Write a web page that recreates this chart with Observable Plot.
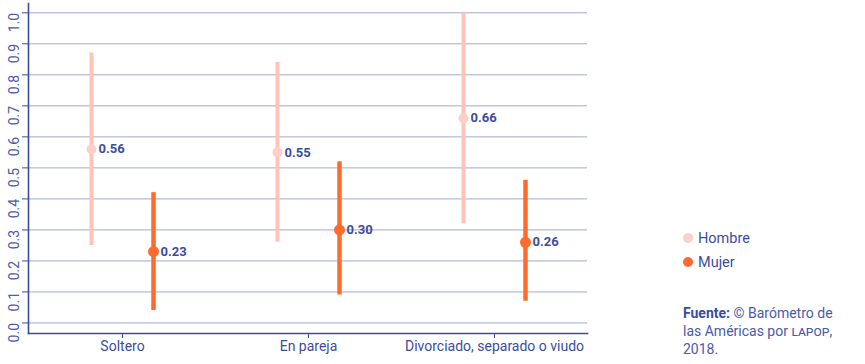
<!DOCTYPE html>
<html>
<head>
<meta charset="utf-8">
<script src="https://cdn.jsdelivr.net/npm/d3@7"></script>
<script src="https://cdn.jsdelivr.net/npm/@observablehq/plot@0.6"></script>
<style>
  html, body { margin: 0; padding: 0; background: #fff; }
  #wrap { position: relative; width: 865px; height: 364px; font-family: Roboto, "Noto Sans", sans-serif; }
  #chart { position: absolute; left: 0; top: 0; }
  #legend { position: absolute; left: 683px; top: 226px; font-size: 14.5px; color: #3c4c9c; }
  #legend .item { display: flex; align-items: center; height: 24px; }
  #legend .sw { width: 10px; height: 10px; border-radius: 50%; margin-right: 5px; }
  #caption { position: absolute; left: 683px; top: 304px; font-size: 14px; line-height: 18px; color: #4a5aa8; }
  #caption b { color: #3c4c9c; font-weight: 700; }
  .sc { font-variant: small-caps; text-transform: lowercase; }
</style>
</head>
<body>
<div id="wrap">
  <div id="chart"></div>
  <div id="legend"></div>
  <div id="caption"><b>Fuente:</b> © Barómetro de<br>las Américas por <span class="sc">LAPOP</span>,<br>2018.</div>
</div>
<script>
const categories = ["Soltero", "En pareja", "Divorciado, separado o viudo"];
const seriesNames = ["Hombre", "Mujer"];
const hombreMean = [0.56, 0.55, 0.66];
const hombreLow  = [0.25, 0.26, 0.32];
const hombreHigh = [0.87, 0.84, 1.00];
const mujerMean  = [0.23, 0.30, 0.26];
const mujerLow   = [0.04, 0.09, 0.07];
const mujerHigh  = [0.42, 0.52, 0.46];
const yTicks = [0, 0.1, 0.2, 0.3, 0.4, 0.5, 0.6, 0.7, 0.8, 0.9, 1.0];

const colors = { Hombre: "#ffc4b7", Mujer: "#fe6b2c" };
const dotColors = { Hombre: "#fdcfc6", Mujer: "#fe6b2c" };
const blue = "#3c4c9c";

const hombre = categories.map((c, i) => ({ cat: c, s: "Hombre", mean: hombreMean[i], low: hombreLow[i], high: hombreHigh[i] }));
const mujer = categories.map((c, i) => ({ cat: c, s: "Mujer", mean: mujerMean[i], low: mujerLow[i], high: mujerHigh[i] }));

function seriesMarks(data, name, off, sw, r) {
  return [
    Plot.ruleX(data, { x: "cat", y1: "low", y2: "high", dx: off, stroke: colors[name], strokeWidth: sw }),
    Plot.dot(data, { x: "cat", y: "mean", dx: off, r: r, fill: dotColors[name], stroke: "none" }),
    Plot.text(data, { x: "cat", y: "mean", dx: off + 7, text: d => d3.format(".2f")(d.mean), textAnchor: "start", fill: blue, fontWeight: "bold", fontSize: 13 })
  ];
}

const chart = Plot.plot({
  width: 600,
  height: 364,
  marginLeft: 28,
  marginRight: 13,
  marginTop: 3,
  marginBottom: 31,
  style: { fontFamily: "Roboto, 'Noto Sans', sans-serif", background: "transparent", overflow: "visible" },
  x: { type: "band", domain: categories, padding: 0 },
  y: { domain: [-0.034, 1.03] },
  marks: [
    Plot.ruleY(yTicks, { stroke: "#a2a9d0", strokeWidth: 1 }),
    Plot.frame({ anchor: "left", stroke: blue, strokeWidth: 1.6 }),
    Plot.frame({ anchor: "bottom", stroke: blue, strokeWidth: 1.6 }),
    Plot.axisY({ ticks: yTicks, tickFormat: d3.format(".1f"), tickRotate: -90, textAnchor: "end", tickSize: 6, tickPadding: 4, stroke: blue, fill: "#4a5aa8", fontSize: 14, label: null }),
    Plot.axisX({ tickSize: 5, tickPadding: 3, stroke: blue, fill: blue, fontSize: 14, label: null }),
    ...seriesMarks(hombre, "Hombre", -31, 4, 5),
    ...seriesMarks(mujer, "Mujer", 31, 4.5, 5.5)
  ]
});

document.getElementById("chart").appendChild(chart);

const legend = document.getElementById("legend");
seriesNames.forEach(n => {
  const it = document.createElement("div");
  it.className = "item";
  it.innerHTML = `<span class="sw" style="background:${dotColors[n]}"></span><span>${n}</span>`;
  legend.appendChild(it);
});
</script>
</body>
</html>
